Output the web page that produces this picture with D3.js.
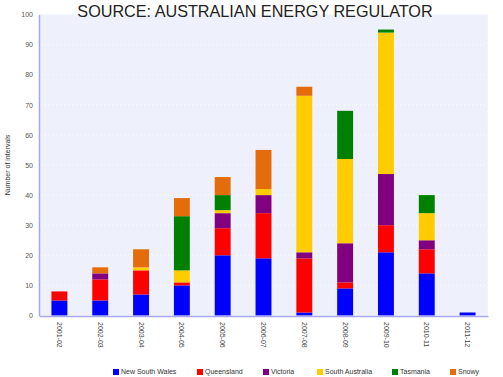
<!DOCTYPE html>
<html><head><meta charset="utf-8">
<script src="https://cdn.jsdelivr.net/npm/d3@7"></script>
<style>body{margin:0;background:#fff;}svg{display:block;}</style>
</head><body><svg id="c" width="503" height="377"></svg>
<script>
const years = ["2001-02","2002-03","2003-04","2004-05","2005-06","2006-07","2007-08","2008-09","2009-10","2010-11","2011-12"];
const regions = ["New South Wales","Queensland","Victoria","South Australia","Tasmania","Snowy"];
const colors = ["#0000ff","#ff0000","#800080","#ffcc00","#008000","#e46c0a"];
const nsw      = [5, 5, 7, 10, 20, 19, 1, 9, 21, 14, 1];
const qld      = [3, 7, 8, 1, 9, 15, 18, 2, 9, 8, 0];
const vic      = [0, 2, 0, 0, 5, 6, 2, 13, 17, 3, 0];
const sa       = [0, 0, 1, 4, 1, 2, 52, 28, 47, 9, 0];
const tas      = [0, 0, 0, 18, 5, 0, 0, 16, 1, 6, 0];
const snowy    = [0, 2, 6, 6, 6, 13, 3, 0, 0, 0, 0];
const yTicks = [0,10,20,30,40,50,60,70,80,90,100];

const series = [nsw, qld, vic, sa, tas, snowy];
const rows = years.map((y,i)=>{const r={year:y}; regions.forEach((k,j)=>r[k]=series[j][i]); return r;});
const stack = d3.stack().keys(regions)(rows);

const svg = d3.select("#c");
const x = d3.scaleBand().domain(years).range([39, 488]).paddingInner(0.61).paddingOuter(0.305);
const y = d3.scaleLinear().domain([0,100]).range([315.5, 14.5]);
const color = d3.scaleOrdinal().domain(regions).range(colors);

// plot background
svg.append("rect").attr("x",39).attr("y",14.5).attr("width",449).attr("height",301).attr("fill","#eef0fc");
// grid
svg.append("g").selectAll("line").data(yTicks.filter(t=>t>0)).join("line")
  .attr("x1",40).attr("x2",488).attr("y1",d=>y(d)).attr("y2",d=>y(d))
  .attr("stroke","#fff").attr("stroke-dasharray","1,3").attr("stroke-width",1);
svg.append("line").attr("x1",488).attr("x2",488).attr("y1",14.5).attr("y2",315.5)
  .attr("stroke","#fff").attr("stroke-dasharray","1,3");

// bars
svg.append("g").selectAll("g").data(stack).join("g").attr("fill",d=>color(d.key))
  .selectAll("rect").data(d=>d).join("rect")
  .attr("x",d=>x(d.data.year)).attr("width",x.bandwidth())
  .attr("y",d=>y(d[1])).attr("height",d=>y(d[0])-y(d[1]));

// axes
const ya = svg.append("g").attr("transform","translate(39,0)")
  .call(d3.axisLeft(y).tickValues(yTicks).tickSize(0).tickPadding(6));
ya.select(".domain").attr("stroke","#a8a8f0").attr("stroke-width",1.5);
ya.selectAll("text").attr("font-family","Liberation Sans, Arial, sans-serif").attr("font-size",7).attr("fill","#555");

const xa = svg.append("g").attr("transform","translate(0,316)")
  .call(d3.axisBottom(x).tickSize(0));
xa.select(".domain").attr("stroke","#a8a8f0").attr("stroke-width",1.5);
xa.selectAll("text").attr("font-family","Liberation Sans, Arial, sans-serif").attr("font-size",7).attr("fill","#444")
  .attr("transform","rotate(90)").attr("text-anchor","start").attr("x",6).attr("y",0).attr("dy","0.35em").attr("dx",0);

// y title
svg.append("text").attr("transform","translate(10,165) rotate(-90)").attr("text-anchor","middle")
  .attr("font-family","Liberation Sans, Arial, sans-serif").attr("font-size",7).attr("fill","#333").text("Number of intervals");

// title
svg.append("text").attr("x",255).attr("y",17).attr("text-anchor","middle")
  .attr("font-family","Liberation Sans, Arial, sans-serif").attr("font-size",16.2).attr("fill","#222")
  .text("SOURCE: AUSTRALIAN ENERGY REGULATOR");

// legend
const legX = [113, 197, 263, 317, 392, 450];
const lg = svg.append("g").selectAll("g").data(regions).join("g")
  .attr("transform",(d,i)=>`translate(${legX[i]},372)`);
lg.append("rect").attr("x",0).attr("y",-3).attr("width",6).attr("height",6).attr("fill",d=>color(d));
lg.append("text").attr("x",8).attr("y",0).attr("dy","0.35em")
  .attr("font-family","Liberation Sans, Arial, sans-serif").attr("font-size",7).attr("fill","#333").text(d=>d);
</script></body></html>
